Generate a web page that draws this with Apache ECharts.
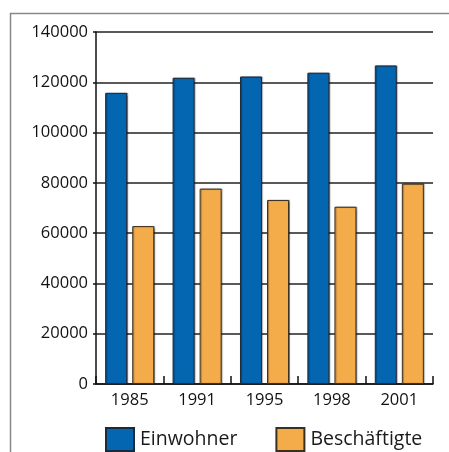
<!DOCTYPE html>
<html>
<head>
<meta charset="utf-8">
<script src="https://cdn.jsdelivr.net/npm/echarts@6/dist/echarts.min.js"></script>
<style>
html,body{margin:0;padding:0;background:#fff;}
#c{width:449px;height:452px;}
</style>
</head>
<body>
<div id="c"></div>
<script>
const years = ['1985', '1991', '1995', '1998', '2001'];
const einwohner = [115800, 121800, 122300, 123800, 126700];
const beschaeftigte = [62800, 77700, 73200, 70500, 79700];
const seriesNames = ['Einwohner', 'Beschäftigte'];
const colors = ['#0465b1', '#f4ac4b'];

const chart = echarts.init(document.getElementById('c'), null, {renderer: 'canvas'});
const font = 'Open Sans';
chart.setOption({
  animation: false,
  backgroundColor: '#ffffff',
  graphic: [
    {type: 'line', shape: {x1: 10, y1: 13.5, x2: 449, y2: 13.5}, style: {stroke: '#888', lineWidth: 1.5}},
    {type: 'line', shape: {x1: 10.5, y1: 13, x2: 10.5, y2: 452}, style: {stroke: '#888', lineWidth: 1.5}}
  ],
  grid: {left: 96, right: 16, top: 32, bottom: 68, containLabel: false},
  legend: {
    data: seriesNames,
    left: 100, top: 422,
    itemWidth: 28, itemHeight: 23, itemGap: 38,
    icon: 'rect',
    textStyle: {fontFamily: font, fontSize: 19.5, color: '#1a1a1a', padding: [0, 0, 0, 1]}
  },
  xAxis: {
    type: 'category',
    data: years,
    boundaryGap: true,
    axisLine: {lineStyle: {color: '#111', width: 1.5}},
    axisTick: {show: true, inside: true, length: 8, lineStyle: {color: '#111', width: 1.5}},
    axisLabel: {fontFamily: font, fontSize: 16.5, color: '#111', margin: 8}
  },
  yAxis: {
    type: 'value',
    min: 0, max: 140000, interval: 20000,
    axisLine: {show: true, lineStyle: {color: '#111', width: 1.5}},
    axisTick: {show: true, length: 3, lineStyle: {color: '#111', width: 1.5}},
    splitLine: {show: true, lineStyle: {color: '#222', width: 1.5}},
    axisLabel: {fontFamily: font, fontSize: 16.5, color: '#111', margin: 8,
      formatter: function (v) { return String(v); }}
  },
  series: [
    {
      name: seriesNames[0], type: 'bar', data: einwohner,
      barWidth: 22, barGap: '23%',
      itemStyle: {color: colors[0], borderColor: '#1d2a3a', borderWidth: 1,
        shadowColor: 'rgba(0,0,0,0.35)', shadowBlur: 1, shadowOffsetX: 1, shadowOffsetY: 0}
    },
    {
      name: seriesNames[1], type: 'bar', data: beschaeftigte,
      barWidth: 22,
      itemStyle: {color: colors[1], borderColor: '#3a3020', borderWidth: 1,
        shadowColor: 'rgba(0,0,0,0.35)', shadowBlur: 1, shadowOffsetX: 1, shadowOffsetY: 0}
    }
  ]
});
</script>
</body>
</html>
